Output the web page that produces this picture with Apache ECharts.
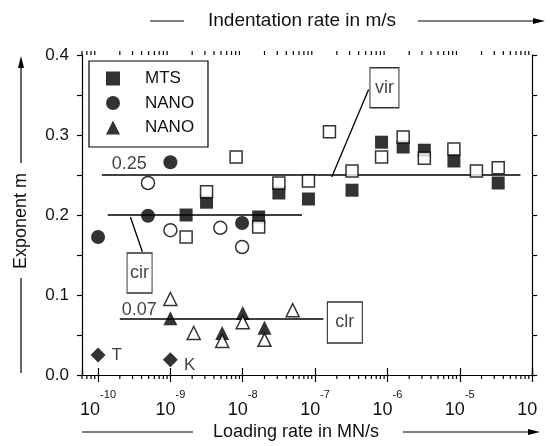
<!DOCTYPE html>
<html lang="en">
<head>
<meta charset="UTF-8">
<title>Exponent m</title>
<style>
  html, body { margin: 0; padding: 0; background: #fff; }
  #chart { width: 550px; height: 446px; }
</style>
</head>
<body>
<div id="chart"></div>
<script src="https://cdn.jsdelivr.net/npm/echarts@6/dist/echarts.min.js"></script>
<script>
// loading rate in MN/s, exponent m
var mtsSolid = [[1.65e-9, 0.2], [3.16e-9, 0.216], [1.66e-8, 0.1975], [3.16e-8, 0.2275], [8.1e-8, 0.22],
  [3.24e-7, 0.231], [8.3e-7, 0.291], [1.65e-6, 0.285], [3.24e-6, 0.281], [8.3e-6, 0.2675], [3.4e-5, 0.24]];
var mtsOpen = [[1.65e-9, 0.1725], [3.16e-9, 0.229], [8.1e-9, 0.2725], [1.66e-8, 0.185], [3.16e-8, 0.24],
  [8.1e-8, 0.2425], [1.58e-7, 0.304], [3.24e-7, 0.255], [8.3e-7, 0.2725], [1.65e-6, 0.2975],
  [3.24e-6, 0.271], [8.3e-6, 0.2825], [1.7e-5, 0.255], [3.4e-5, 0.259]];
var nanoCircSolid = [[1e-10, 0.1725], [4.9e-10, 0.199], [1e-9, 0.266], [9.8e-9, 0.19]];
var nanoCircOpen = [[4.9e-10, 0.24], [1e-9, 0.181], [4.9e-9, 0.184], [9.8e-9, 0.16]];
var nanoTriSolid = [[1e-9, 0.071], [5.2e-9, 0.0525], [1e-8, 0.0775], [2e-8, 0.059]];
var nanoTriOpen = [[1e-9, 0.095], [2.1e-9, 0.0525], [5.2e-9, 0.0425], [1e-8, 0.066], [2e-8, 0.044], [4.9e-8, 0.081]];
var diamonds = [['T', 1e-10, 0.025], ['K', 1e-9, 0.019]];

// fitted levels and callouts
var lineVir = [[1.13e-10, 0.25], [6.9e-5, 0.25]];
var lineCir = [[1.36e-10, 0.2], [6.6e-8, 0.2]];
var lineClr = [[2e-10, 0.07], [1.3e-7, 0.07]];
var leaderVir = [[1.7e-7, 0.2475], [5.5e-7, 0.357]];
var leaderCir = [[2.8e-10, 0.1975], [4.1e-10, 0.154]];
var boxNames = ['vir', 'cir', 'clr'];
var boxPos = [[9.1e-7, 0.359], [3.75e-10, 0.1275], [2.58e-7, 0.0656]];
var levelNames = ['0.25', '0.07'];
var levelPos = [[2.7e-10, 0.264], [3.7e-10, 0.081]];

var xMin = 6e-11, xMax = 1e-4;

// minor log ticks 2..9 per decade
var minorTicks = [];
for (var e = -11; e <= -5; e++) {
  for (var k = 2; k <= 9; k++) {
    var v = k * Math.pow(10, e);
    if (v >= 5.99e-11 && v <= 1.01e-4) minorTicks.push([v, 0]);
  }
}

var font = '"Liberation Sans", Arial, sans-serif';
var ink = '#111';

function expLabel(v) {
  var l = Math.log10(v), n = Math.round(l);
  if (Math.abs(l - n) > 0.01) return '';
  // exponent of the last label is cut off in the figure
  if (n === -4) return '{b|10}{h|' + n + '}';
  return '{b|10}{e|' + n + '}';
}

var myChart = echarts.init(document.getElementById('chart'));

function scatter(name, data, symbol, size, filled) {
  return {
    name: name,
    type: 'scatter',
    data: data,
    symbol: symbol,
    symbolSize: size,
    z: filled ? 3 : 4,
    itemStyle: filled ? { color: '#000' } : { color: '#fff', borderColor: '#000', borderWidth: 1.5 }
  };
}

function plainLine(data, width) {
  return {
    type: 'line', data: data, symbol: 'none', silent: true, z: 2,
    lineStyle: { color: '#000', width: width }
  };
}

var option = {
  animation: false,
  textStyle: { fontFamily: font },
  grid: { left: 82, right: 8, top: 55, bottom: 71 },
  legend: {
    data: ['MTS', 'NANO', 'NANO '],
    orient: 'vertical',
    left: 89,
    top: 61,
    padding: [9, 0, 10, 17],
    itemGap: 7.5,
    itemWidth: 14,
    itemHeight: 14,
    selectedMode: false,
    textStyle: { fontSize: 17, color: ink, padding: [0, 0, 0, 20], fontFamily: font }
  },
  xAxis: [{
    type: 'log', logBase: 10, min: xMin, max: xMax,
    position: 'bottom',
    splitLine: { show: false },
    axisLine: { lineStyle: { color: '#000', width: 1.2 } },
    axisTick: { length: 7, lineStyle: { color: '#000', width: 1.2 } },
    axisLabel: {
      margin: 14,
      showMinLabel: false,
      formatter: expLabel,
      rich: {
        b: { fontSize: 18, color: ink, fontFamily: font, lineHeight: 30, verticalAlign: 'bottom' },
        e: { fontSize: 11, color: ink, fontFamily: font, lineHeight: 30, verticalAlign: 'top' },
        h: { fontSize: 11, color: 'rgba(0,0,0,0)', fontFamily: font, lineHeight: 30, verticalAlign: 'top' }
      }
    }
  }, {
    type: 'log', logBase: 10, min: xMin, max: xMax,
    position: 'top',
    splitLine: { show: false },
    axisLine: { lineStyle: { color: '#000', width: 1.2 } },
    axisTick: { length: 7, lineStyle: { color: '#000', width: 1.2 } },
    axisLabel: { show: false }
  }],
  yAxis: [{
    type: 'value', min: 0, max: 0.4, interval: 0.1,
    position: 'left',
    splitLine: { show: false },
    axisLine: { show: true, lineStyle: { color: '#000', width: 1.2 } },
    axisTick: { show: true, length: 5, lineStyle: { color: '#000', width: 1.2 } },
    minorTick: { show: true, splitNumber: 2, length: 5, lineStyle: { color: '#000', width: 1.2 } },
    axisLabel: {
      margin: 13, fontSize: 17, color: ink,
      formatter: function (v) { return v.toFixed(1); }
    }
  }, {
    type: 'value', min: 0, max: 0.4, interval: 0.1,
    position: 'right',
    splitLine: { show: false },
    axisLine: { show: true, lineStyle: { color: '#000', width: 1.2 } },
    axisTick: { show: true, length: 5, lineStyle: { color: '#000', width: 1.2 } },
    minorTick: { show: true, splitNumber: 2, length: 5, lineStyle: { color: '#000', width: 1.2 } },
    axisLabel: { show: false }
  }],
  series: [
    plainLine(lineVir, 1.5),
    plainLine(lineCir, 1.5),
    plainLine(lineClr, 1.5),
    plainLine(leaderVir, 1.3),
    plainLine(leaderCir, 1.3),
    scatter('MTS', mtsSolid, 'rect', 13, true),
    scatter('NANO', nanoCircSolid, 'circle', 14, true),
    scatter('NANO ', nanoTriSolid, 'triangle', 14, true),
    scatter('mtsOpen', mtsOpen, 'rect', 12, false),
    scatter('circOpen', nanoCircOpen, 'circle', 13, false),
    scatter('triOpen', nanoTriOpen, 'triangle', 13, false),
    {
      type: 'scatter', symbol: 'diamond', symbolSize: 15, z: 3,
      itemStyle: { color: '#000' },
      data: diamonds.map(function (d) {
        return { name: d[0], value: [d[1], d[2]],
          label: { offset: d[0] === 'K' ? [0, 6] : [0, 0] } };
      }),
      label: { show: true, position: 'right', distance: 6, formatter: '{b}', fontSize: 17, color: ink }
    },
    {
      type: 'scatter', symbol: 'rect', z: 5, silent: true,
      itemStyle: { color: '#fff', borderColor: '#000', borderWidth: 1.2 },
      data: boxNames.map(function (n, i) {
        var sz = [[29, 40], [25, 40], [35, 41]][i];
        return { name: n, value: boxPos[i], symbolSize: sz };
      }),
      label: { show: true, position: 'inside', formatter: '{b}', fontSize: 18, color: ink }
    },
    {
      type: 'scatter', symbolSize: 0, z: 5, silent: true,
      data: levelNames.map(function (n, i) { return { name: n, value: levelPos[i] }; }),
      label: { show: true, position: 'inside', formatter: '{b}', fontSize: 18, color: ink }
    },
    {
      type: 'custom', silent: true, clip: false, z: 6,
      data: minorTicks,
      encode: { x: 0, y: 1 },
      renderItem: function (params, api) {
        var x = api.coord([api.value(0), 0])[0];
        var cs = params.coordSys;
        var yb = cs.y + cs.height, yt = cs.y;
        var st = { stroke: '#000', lineWidth: 1.2 };
        return {
          type: 'group',
          children: [
            { type: 'line', shape: { x1: x, y1: yb, x2: x, y2: yb + 4 }, style: st },
            { type: 'line', shape: { x1: x, y1: yt, x2: x, y2: yt - 4 }, style: st }
          ]
        };
      }
    }
  ],
  graphic: [
    // legend frame
    { type: 'rect', z: 1, shape: { x: 89, y: 61, width: 119, height: 86 }, style: { fill: '#fff', stroke: '#000', lineWidth: 1.2 } },
    // top title with arrow
    { type: 'line', shape: { x1: 150, y1: 21, x2: 184, y2: 21 }, style: { stroke: '#000', lineWidth: 1.2 } },
    { type: 'text', x: 302, y: 21, style: { text: 'Indentation rate in m/s', font: '19px ' + font, fill: ink, align: 'center', verticalAlign: 'middle' } },
    { type: 'line', shape: { x1: 418, y1: 21, x2: 536, y2: 21 }, style: { stroke: '#000', lineWidth: 1.2 } },
    { type: 'polygon', shape: { points: [[545, 21], [533, 18], [533, 24]] }, style: { fill: '#000' } },
    // bottom title with arrow
    { type: 'line', shape: { x1: 82, y1: 432, x2: 193, y2: 432 }, style: { stroke: '#000', lineWidth: 1.2 } },
    { type: 'text', x: 296, y: 432, style: { text: 'Loading rate in MN/s', font: '18px ' + font, fill: ink, align: 'center', verticalAlign: 'middle' } },
    { type: 'line', shape: { x1: 403, y1: 432, x2: 530, y2: 432 }, style: { stroke: '#000', lineWidth: 1.2 } },
    { type: 'polygon', shape: { points: [[540, 432], [528, 429], [528, 435]] }, style: { fill: '#000' } },
    // left title with arrow
    { type: 'line', shape: { x1: 21, y1: 373, x2: 21, y2: 278 }, style: { stroke: '#000', lineWidth: 1.2 } },
    { type: 'text', x: 21, y: 221, rotation: Math.PI / 2, style: { text: 'Exponent m', font: '18px ' + font, fill: ink, align: 'center', verticalAlign: 'middle' } },
    { type: 'line', shape: { x1: 21, y1: 163, x2: 21, y2: 66 }, style: { stroke: '#000', lineWidth: 1.2 } },
    { type: 'polygon', shape: { points: [[21, 56], [18, 68], [24, 68]] }, style: { fill: '#000' } }
  ]
};

myChart.setOption(option);
</script>
</body>
</html>
